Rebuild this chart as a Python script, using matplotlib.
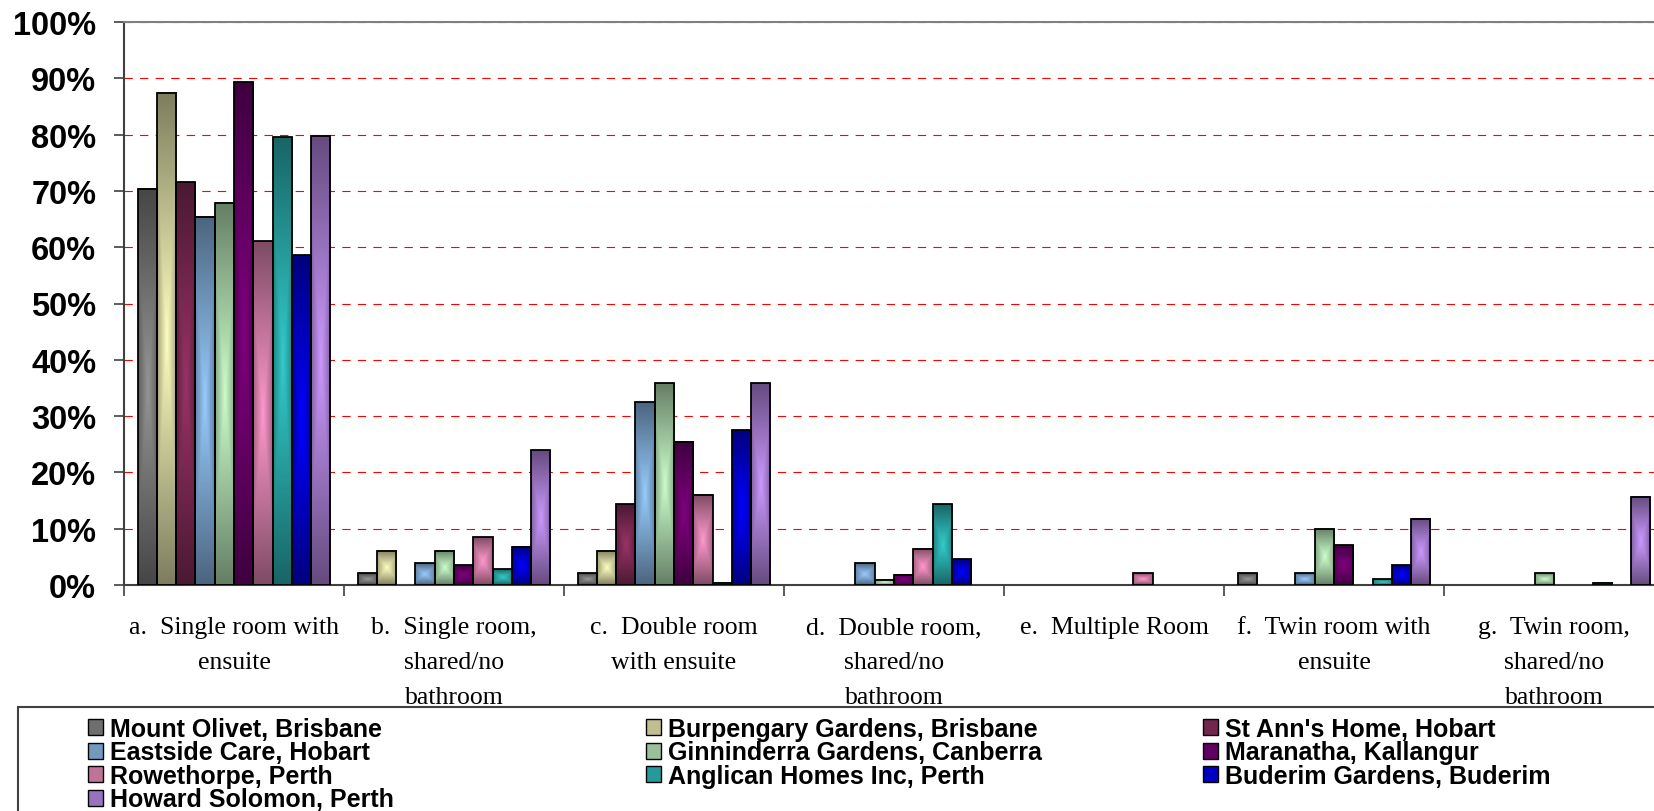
import matplotlib
matplotlib.use('Agg')
import matplotlib.pyplot as plt
import numpy as np
from matplotlib.patches import Patch, Rectangle
from matplotlib.colors import to_rgb

# Room type categories (x axis)
categories = [
    'a.  Single room with\nensuite',
    'b.  Single room,\nshared/no\nbathroom',
    'c.  Double room\nwith ensuite',
    'd.  Double room,\nshared/no\nbathroom',
    'e.  Multiple Room',
    'f.  Twin room with\nensuite',
    'g.  Twin room,\nshared/no\nbathroom',
]

facilities = [
    'Mount Olivet, Brisbane', 'Burpengary Gardens, Brisbane', "St Ann's Home, Hobart",
    'Eastside Care, Hobart', 'Ginninderra Gardens, Canberra', 'Maranatha, Kallangur',
    'Rowethorpe, Perth', 'Anglican Homes Inc, Perth', 'Buderim Gardens, Buderim',
    'Howard Solomon, Perth',
]

# percent of rooms per category
mount_olivet = [70.4, 2.1, 2.1, 0.0, 0.0, 2.1, 0.0]
burpengary = [87.4, 6.1, 6.1, 0.0, 0.0, 0.0, 0.0]
st_anns = [71.5, 0.0, 14.3, 0.0, 0.0, 0.0, 0.0]
eastside = [65.4, 3.9, 32.5, 3.9, 0.0, 2.1, 0.0]
ginninderra = [67.9, 6.1, 35.8, 0.9, 0.0, 10.0, 2.1]
maranatha = [89.3, 3.5, 25.4, 1.8, 0.0, 7.1, 0.0]
rowethorpe = [61.1, 8.5, 16.0, 6.4, 2.1, 0.0, 0.0]
anglican = [79.5, 2.8, 0.4, 14.3, 0.0, 1.0, 0.4]
buderim = [58.6, 6.8, 27.5, 4.6, 0.0, 3.5, 0.0]
howard = [79.8, 23.9, 35.8, 0.0, 0.0, 11.8, 15.7]

series = [mount_olivet, burpengary, st_anns, eastside, ginninderra,
          maranatha, rowethorpe, anglican, buderim, howard]

y_ticks = [0, 10, 20, 30, 40, 50, 60, 70, 80, 90, 100]

# light (centre) and dark (rim) colour of each bar's gradient
light_colors = ['#969696', '#FFFFC0', '#993366', '#99CCFF', '#CCFFCC',
                '#800080', '#FF99CC', '#33CCCC', '#0000FF', '#CC99FF']
dark_colors = ['#474747', '#7F7F60', '#4C1933', '#4C6680', '#668066',
               '#400040', '#804C66', '#196666', '#000080', '#664C80']

W, H = 1654, 812
fig = plt.figure(figsize=(W / 100, H / 100), dpi=100)
ax = fig.add_axes([124 / W, 226 / H, 1540 / W, 563 / H])

n = len(facilities)
group_w = 0.877
bar_w = group_w / n
x = np.arange(len(categories))

# gradient: light in the middle, dark towards the rim
u = np.linspace(-1, 1, 24)
v = np.linspace(-1, 1, 60)
U, V = np.meshgrid(u, v)
t = np.clip(np.maximum(np.abs(V), 0.7 * np.abs(U)), 0, 1)[..., None]

handles = []
for i, vals in enumerate(series):
    vals = np.array(vals) / 100
    pos = x - group_w / 2 + (i + 0.5) * bar_w
    bars = ax.bar(pos, vals, bar_w, facecolor='none', edgecolor='black',
                  linewidth=1.3, zorder=3)
    lo = np.array(to_rgb(dark_colors[i]))
    hi = np.array(to_rgb(light_colors[i]))
    img = hi * (1 - t) + lo * t
    for b in bars:
        if b.get_height() <= 0:
            b.set_linewidth(0)
            continue
        ax.imshow(img, extent=(b.get_x(), b.get_x() + b.get_width(), 0, b.get_height()),
                  aspect='auto', interpolation='bilinear', origin='lower', zorder=2)
    handles.append(Patch(facecolor=tuple(0.5 * lo + 0.5 * hi), edgecolor='black', linewidth=1.0))

ax.set_xlim(-0.5, len(categories) - 0.5)
ax.set_ylim(0, 1)

# y axis
ax.set_yticks(np.array(y_ticks) / 100, [f'{v}%' for v in y_ticks],
              fontsize=23.5, fontweight='bold', family='Liberation Sans')
ax.tick_params(axis='y', direction='out', length=7, width=1.2, color='#404040', pad=13)
ax.yaxis.grid(True, color='red', linestyle=(0, (7.5, 6.5)), linewidth=0.8)
ax.set_axisbelow(True)

# x axis: labels at centres, tick marks between groups
ax.set_xticks(x, categories, fontsize=18.5, family='Liberation Serif', linespacing=1.75)
ax.tick_params(axis='x', which='major', length=0, pad=22.5)
ax.set_xticks(np.arange(-0.5, len(categories), 1), minor=True)
ax.tick_params(axis='x', which='minor', direction='out', length=8, width=1.2, color='#404040')

for side in ['left', 'bottom']:
    ax.spines[side].set_color('#404040')
    ax.spines[side].set_linewidth(1.5)
ax.spines['top'].set_color('#808080')
ax.spines['top'].set_linewidth(1.5)
ax.spines['right'].set_visible(False)

# legend: three columns like the original, inside one frame
col_x = [88, 646, 1203]
for c in range(3):
    fig.legend(handles[c::3], facilities[c::3], loc='upper left',
               bbox_to_anchor=(col_x[c] / W, (H - 718) / H), frameon=False,
               borderpad=0, borderaxespad=0, handlelength=0.6, handleheight=0.6,
               handletextpad=0.27, labelspacing=-0.02,
               prop={'family': 'Liberation Sans', 'weight': 'bold', 'size': 18})
fig.add_artist(Rectangle((18 / W, -0.05), 1.0, (H - 708) / H + 0.05,
                         transform=fig.transFigure, fill=False,
                         edgecolor='#404040', linewidth=1.5))

fig.savefig('out.png', dpi=100)
